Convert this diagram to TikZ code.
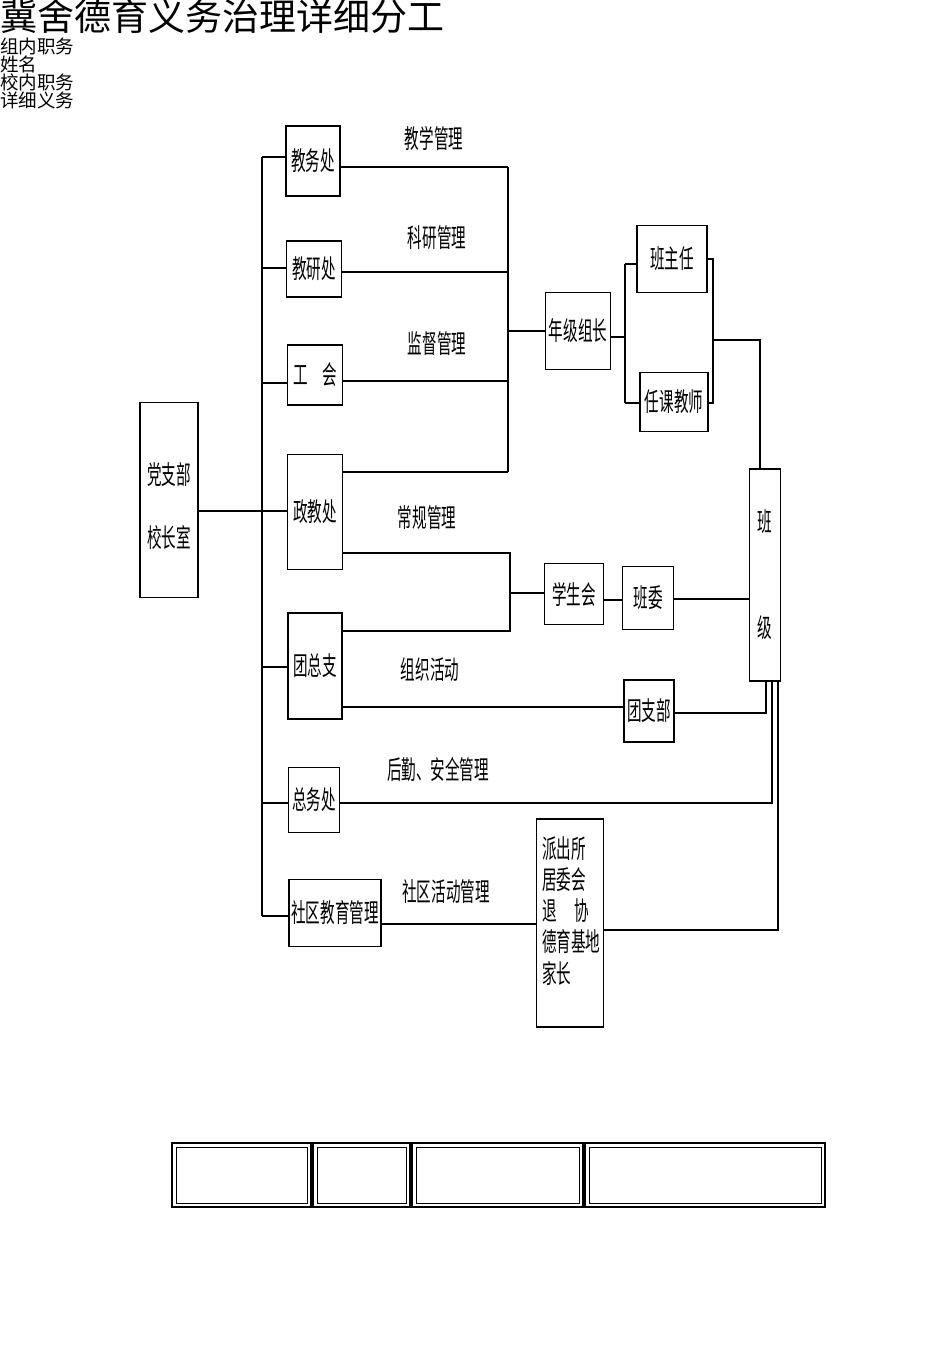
\documentclass[tikz,border=0pt]{standalone}
\usepackage{fontspec}
\setmainfont{Noto Sans CJK SC}
\newcommand{\nar}[1]{\scalebox{0.56}[1]{#1}}
\begin{document}
\begin{tikzpicture}[x=1pt,y=-1pt,
  bx/.style={draw,line width=1.8pt,inner sep=0pt,font=\fontsize{26}{28}\selectfont},
  lb/.style={font=\fontsize{26}{28}\selectfont,inner sep=0pt},
  ln/.style={line width=1.8pt}]
\useasboundingbox (0,0) rectangle (950,1345);
\node[anchor=north west,inner sep=0pt,font=\fontsize{37}{39}\selectfont] (title) at (0,-1) {冀舍德育义务治理详细分工};
\node[anchor=north west,inner sep=0pt,font=\fontsize{18.5}{18}\selectfont,align=left] (hdr) at (0,38) {组内职务\\姓名\\校内职务\\详细义务};
% boxes
\node[bx,minimum width=58pt,minimum height=195pt] (dz) at (169,500) {};
\node[lb] (dzt1) at (169,475) {\nar{党支部}};
\node[lb] (dzt2) at (169,537) {\nar{校长室}};
\node[bx,minimum width=54pt,minimum height=70pt] (jw) at (313,161) {\nar{教务处}};
\node[bx,minimum width=55pt,minimum height=56pt] (jy) at (314,269) {\nar{教研处}};
\node[bx,minimum width=55pt,minimum height=60pt] (gh) at (315,375) {\nar{工\quad 会}};
\node[bx,minimum width=55pt,minimum height=115pt] (zj) at (315,512) {\nar{政教处}};
\node[bx,minimum width=54pt,minimum height=106pt] (tz) at (315,666) {\nar{团总支}};
\node[bx,minimum width=51pt,minimum height=65pt] (zw) at (314,800) {\nar{总务处}};
\node[bx,minimum width=92pt,minimum height=67pt] (sq) at (335,913) {\nar{社区教育管理}};
\node[bx,minimum width=65pt,minimum height=77pt] (nj) at (578,331) {\nar{年级组长}};
\node[bx,minimum width=70pt,minimum height=67pt] (bzr) at (672,259) {\nar{班主任}};
\node[bx,minimum width=68pt,minimum height=59pt] (rk) at (674,402) {\nar{任课教师}};
\node[bx,minimum width=59pt,minimum height=61pt] (xs) at (574,594) {\nar{学生会}};
\node[bx,minimum width=51pt,minimum height=63pt] (bw) at (648,598) {\nar{班委}};
\node[bx,minimum width=50pt,minimum height=62pt] (tzb) at (649,711) {\nar{团支部}};
\node[bx,minimum width=31pt,minimum height=212pt] (bj) at (765,575) {};
\node[lb] (bj1) at (765,522) {\nar{班}};
\node[lb] (bj2) at (765,628) {\nar{级}};
\node[bx,minimum width=67pt,minimum height=208pt] (pc) at (570,923) {};
\node[lb,anchor=north west] (pct) at (542,836) {\nar{\begin{tabular}{@{}l@{}}派出所\\[1pt]居委会\\[1pt]退\quad\ 协\\[1pt]德育基地\\[1pt]家长\end{tabular}}};
% labels
\node[lb] (l1) at (434,139) {\nar{教学管理}};
\node[lb] (l2) at (437,238) {\nar{科研管理}};
\node[lb] (l3) at (437,344) {\nar{监督管理}};
\node[lb] (l4) at (427,518) {\nar{常规管理}};
\node[lb] (l5) at (430,670) {\nar{组织活动}};
\node[lb] (l6) at (438,770) {\nar{后勤、安全管理}};
\node[lb] (l7) at (446,892) {\nar{社区活动管理}};
% connectors
\coordinate (s1) at (262,157); \coordinate (s7) at (262,916);
\draw[ln] (s1) -- (s7);
\draw[ln] (s1) -- (jw.west|-s1);
\draw[ln] (262,268) -- (jy.west|-0,268);
\draw[ln] (262,383) -- (gh.west|-0,383);
\draw[ln] (262,667) -- (tz.west|-0,667);
\draw[ln] (262,803) -- (zw.west|-0,803);
\draw[ln] (s7) -- (sq.west|-s7);
\draw[ln] (dz.east|-0,511) -- (zj.west|-0,511);
\coordinate (r1) at (508,167); \coordinate (r4) at (508,472);
\draw[ln] (r1) -- (r4);
\draw[ln] (jw.east|-r1) -- (r1);
\draw[ln] (jy.east|-0,272) -- (508,272);
\draw[ln] (gh.east|-0,381) -- (508,381);
\draw[ln] (zj.east|-r4) -- (r4);
\draw[ln] (508,331) -- (nj.west);
\draw[ln] (nj.east|-0,337) -- (625,337);
\draw[ln] (625,264) -- (625,403);
\draw[ln] (625,264) -- (bzr.west|-0,264);
\draw[ln] (625,403) -- (rk.west|-0,403);
\draw[ln] (bzr.east|-0,259) -- (713,259) -- (713,403) -- (rk.east|-0,403);
\draw[ln] (713,340) -- (760,340) -- (760,469);
\draw[ln] (zj.east|-0,553) -- (510,553) -- (510,631) -- (tz.east|-0,631);
\draw[ln] (510,593) -- (xs.west|-0,593);
\draw[ln] (xs.east|-0,600) -- (bw.west|-0,600);
\draw[ln] (bw.east|-0,599) -- (bj.west|-0,599);
\draw[ln] (tz.east|-0,707) -- (tzb.west|-0,707);
\draw[ln] (tzb.east|-0,713) -- (766,713) -- (766,681);
\draw[ln] (zw.east|-0,803) -- (772,803) -- (772,681);
\draw[ln] (sq.east|-0,924) -- (pc.west|-0,924);
\draw[ln] (pc.east|-0,930) -- (778,930) -- (778,681);
% bottom table
\foreach \a/\b in {172/311,313/410,412/583,585/825}{
  \draw[line width=1.5pt] (\a,1143) rectangle (\b,1207);
  \draw[line width=0.8pt] (\a+4,1147) rectangle (\b-4,1203);
}
\end{tikzpicture}
\end{document}
